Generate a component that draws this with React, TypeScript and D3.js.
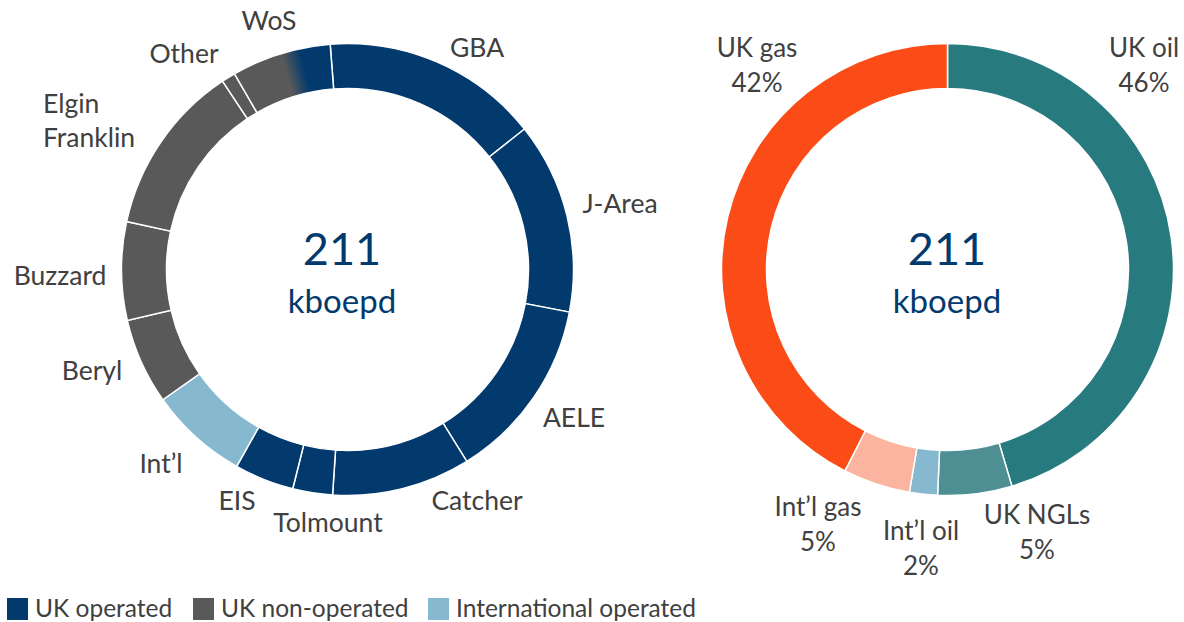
import React from "react";
import * as d3 from "d3";

// ---------- Data ----------
const fieldNames = ["GBA", "J-Area", "AELE", "Catcher", "Tolmount", "EIS", "Int’l", "Beryl", "Buzzard", "Elgin Franklin", "Other", "WoS"];
const fieldValues = [32.8, 28.9, 27.7, 20.9, 6.0, 9.0, 14.9, 13.0, 14.8, 25.9, 2.1, 15.0];
const fieldGroups = ["UK operated", "UK operated", "UK operated", "UK operated", "UK operated", "UK operated", "International operated", "UK non-operated", "UK non-operated", "UK non-operated", "UK non-operated", "WoS"];

const productNames = ["UK oil", "UK NGLs", "Int’l oil", "Int’l gas", "UK gas"];
const productValues = [45.4, 5.3, 2.0, 4.8, 42.5];
const productLabels = ["46%", "5%", "2%", "5%", "42%"];

const totalValue = "211";
const totalUnit = "kboepd";
const legendItems = ["UK operated", "UK non-operated", "International operated"];

// ---------- Styles ----------
const W = 1184, H = 622;
const FONT = "Lato, 'Open Sans', sans-serif";
const TEXT = "#404040";
const NAVY = "#023A6E";
const GREY = "#595959";
const LIGHT = "#86B8CF";
const groupColor: Record<string, string> = {
  "UK operated": NAVY,
  "UK non-operated": GREY,
  "International operated": LIGHT,
  WoS: "url(#wosGrad)",
};
const productColors = ["#277A7E", "#4D8F93", "#86B8CF", "#FBB4A0", "#FB4B17"];

const R_OUT = 226, R_IN = 181;
const leftC = { x: 347.5, y: 269.5 };
const rightC = { x: 947.5, y: 269.5 };
const deg = Math.PI / 180;

// label positions (anchor middle unless noted)
const fieldLabelPos: Record<string, { x: number; y: number; anchor?: string }> = {
  GBA: { x: 477, y: 57 },
  "J-Area": { x: 620, y: 213 },
  AELE: { x: 574, y: 427 },
  Catcher: { x: 477, y: 510 },
  Tolmount: { x: 328, y: 532 },
  EIS: { x: 237, y: 510 },
  "Int’l": { x: 161, y: 473 },
  Beryl: { x: 92, y: 380 },
  Buzzard: { x: 60, y: 285 },
  "Elgin Franklin": { x: 43, y: 113, anchor: "start" },
  Other: { x: 184, y: 63 },
  WoS: { x: 269, y: 30 },
};
const productLabelPos: Record<string, { x: number; y: number }> = {
  "UK oil": { x: 1144, y: 57 },
  "UK NGLs": { x: 1037, y: 524 },
  "Int’l oil": { x: 921, y: 540 },
  "Int’l gas": { x: 818, y: 516 },
  "UK gas": { x: 757, y: 57 },
};

export default function App() {
  const arc = d3.arc<d3.PieArcDatum<number>>().innerRadius(R_IN).outerRadius(R_OUT);

  const start = -4.4 * deg;
  const leftPie = d3.pie<number>().sort(null).value((d) => d).startAngle(start).endAngle(start + 2 * Math.PI)(fieldValues);
  const rightPie = d3.pie<number>().sort(null).value((d) => d)(productValues);

  // WoS gradient (grey -> navy along the slice), in the donut group's local coordinates
  const wos = leftPie[fieldNames.indexOf("WoS")];
  const span = wos.endAngle - wos.startAngle;
  const a1 = wos.startAngle + span * 0.5;
  const a2 = wos.startAngle + span * 0.7;
  const rm = (R_IN + R_OUT) / 2;
  const p1 = { x: rm * Math.sin(a1), y: -rm * Math.cos(a1) };
  const p2 = { x: rm * Math.sin(a2), y: -rm * Math.cos(a2) };

  const legendX = [7, 193, 428];

  return (
    <svg width={W} height={H} style={{ position: "absolute", left: 0, top: 0, display: "block", background: "#fff" }} fontFamily={FONT}>
      <defs>
        <linearGradient id="wosGrad" gradientUnits="userSpaceOnUse" x1={p1.x} y1={p1.y} x2={p2.x} y2={p2.y}>
          <stop offset="0" stopColor={GREY} />
          <stop offset="1" stopColor={NAVY} />
        </linearGradient>
      </defs>

      {/* Left donut */}
      <g transform={`translate(${leftC.x},${leftC.y})`}>
        {leftPie.map((d, i) => (
          <path key={i} d={arc(d) || ""} fill={groupColor[fieldGroups[i]]} stroke="#fff" strokeWidth={1.5} />
        ))}
      </g>
      <text x={342} y={265} textAnchor="middle" fontSize={45} fill={NAVY}>{totalValue}</text>
      <text x={342} y={313} textAnchor="middle" fontSize={33} fill={NAVY}>{totalUnit}</text>

      {fieldNames.map((name) => {
        const p = fieldLabelPos[name];
        const words = name === "Elgin Franklin" ? ["Elgin", "Franklin"] : [name];
        return (
          <text key={name} x={p.x} y={p.y} textAnchor={p.anchor || "middle"} fontSize={26.5} fill={TEXT}>
            {words.map((w, j) => (
              <tspan key={j} x={p.x} dy={j === 0 ? 0 : 34}>{w}</tspan>
            ))}
          </text>
        );
      })}

      {/* Right donut */}
      <g transform={`translate(${rightC.x},${rightC.y})`}>
        {rightPie.map((d, i) => (
          <path key={i} d={arc(d) || ""} fill={productColors[i]} stroke="#fff" strokeWidth={1.5} />
        ))}
      </g>
      <text x={947} y={265} textAnchor="middle" fontSize={45} fill={NAVY}>{totalValue}</text>
      <text x={947} y={313} textAnchor="middle" fontSize={33} fill={NAVY}>{totalUnit}</text>

      {productNames.map((name, i) => {
        const p = productLabelPos[name];
        return (
          <text key={name} x={p.x} y={p.y} textAnchor="middle" fontSize={26} fill={TEXT}>
            <tspan x={p.x} dy={0}>{name}</tspan>
            <tspan x={p.x} dy={35}>{productLabels[i]}</tspan>
          </text>
        );
      })}

      {/* Legend */}
      {legendItems.map((name, i) => (
        <g key={name}>
          <rect x={legendX[i]} y={598} width={21} height={22} fill={groupColor[name]} />
          <text x={legendX[i] + 28} y={617} fontSize={24.5} fill={TEXT}>{name}</text>
        </g>
      ))}
    </svg>
  );
}
